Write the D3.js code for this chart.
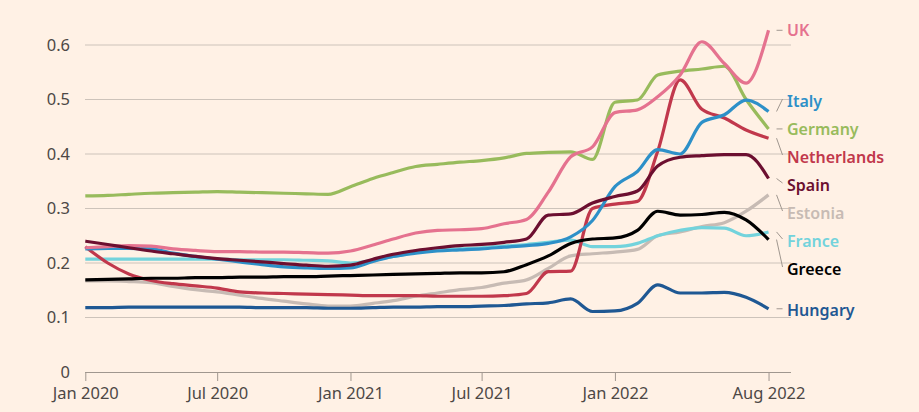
<!DOCTYPE html>
<html>
<head>
<meta charset="utf-8">
<script src="https://cdn.jsdelivr.net/npm/d3@7"></script>
<style>
  html, body { margin: 0; padding: 0; background: #FFF1E5; }
  svg { display: block; }
  text { font-family: "Noto Sans", "DejaVu Sans", sans-serif; }
</style>
</head>
<body>
<svg id="chart" width="919" height="412"></svg>
<script>
// ---- DATA ----
const months = [
  "2020-01","2020-02","2020-03","2020-04","2020-05","2020-06","2020-07","2020-08",
  "2020-09","2020-10","2020-11","2020-12","2021-01","2021-02","2021-03","2021-04",
  "2021-05","2021-06","2021-07","2021-08","2021-09","2021-10","2021-11","2021-12",
  "2022-01","2022-02","2022-03","2022-04","2022-05","2022-06","2022-07","2022-08"
];
const countries = ["Estonia","France","Hungary","Netherlands","Germany","Italy","UK","Spain","Greece"];

const uk          = [0.228,0.230,0.232,0.231,0.226,0.223,0.221,0.221,0.220,0.220,0.219,0.218,0.222,0.233,0.244,0.255,0.260,0.261,0.263,0.272,0.280,0.330,0.395,0.413,0.476,0.481,0.505,0.545,0.606,0.566,0.530,0.627];
const italy       = [0.226,0.227,0.227,0.226,0.218,0.212,0.207,0.202,0.197,0.193,0.191,0.190,0.191,0.203,0.212,0.218,0.222,0.224,0.226,0.229,0.232,0.236,0.248,0.278,0.340,0.368,0.408,0.400,0.458,0.472,0.499,0.478];
const germany     = [0.323,0.324,0.326,0.328,0.329,0.330,0.331,0.330,0.329,0.328,0.327,0.326,0.340,0.355,0.366,0.377,0.381,0.385,0.388,0.393,0.401,0.403,0.404,0.390,0.495,0.499,0.545,0.552,0.556,0.561,0.500,0.446];
const netherlands = [0.230,0.200,0.180,0.168,0.162,0.158,0.154,0.147,0.145,0.144,0.143,0.142,0.141,0.140,0.140,0.140,0.139,0.139,0.139,0.140,0.144,0.184,0.185,0.300,0.308,0.313,0.405,0.536,0.482,0.466,0.444,0.429];
const spain       = [0.240,0.234,0.228,0.222,0.217,0.212,0.208,0.205,0.202,0.199,0.196,0.194,0.196,0.207,0.216,0.223,0.228,0.232,0.234,0.238,0.244,0.288,0.290,0.310,0.322,0.332,0.378,0.394,0.397,0.399,0.399,0.355];
const estonia     = [0.167,0.167,0.166,0.164,0.157,0.151,0.147,0.141,0.135,0.130,0.125,0.121,0.121,0.126,0.131,0.139,0.145,0.151,0.155,0.163,0.169,0.190,0.213,0.217,0.220,0.225,0.250,0.257,0.267,0.274,0.295,0.325];
const france      = [0.207,0.207,0.207,0.207,0.207,0.207,0.207,0.206,0.206,0.206,0.205,0.204,0.200,0.205,0.212,0.219,0.224,0.226,0.228,0.231,0.234,0.238,0.242,0.230,0.230,0.236,0.250,0.260,0.265,0.264,0.250,0.257];
const greece      = [0.169,0.170,0.171,0.172,0.172,0.173,0.173,0.174,0.174,0.175,0.175,0.176,0.177,0.178,0.179,0.180,0.181,0.182,0.182,0.184,0.197,0.213,0.236,0.244,0.246,0.260,0.295,0.288,0.289,0.293,0.279,0.243];
const hungary     = [0.118,0.118,0.119,0.119,0.119,0.119,0.119,0.119,0.118,0.118,0.118,0.117,0.117,0.118,0.119,0.119,0.120,0.120,0.121,0.122,0.125,0.127,0.134,0.111,0.112,0.126,0.160,0.145,0.145,0.146,0.137,0.116];

const yTicks = [0, 0.1, 0.2, 0.3, 0.4, 0.5, 0.6];
const xTickDates = ["2020-01","2020-07","2021-01","2021-07","2022-01","2022-08"];
const xTickLabels = ["Jan 2020","Jul 2020","Jan 2021","Jul 2021","Jan 2022","Aug 2022"];

// ---- STYLE / LAYOUT ----
const valuesBy = { UK: uk, Italy: italy, Germany: germany, Netherlands: netherlands, Spain: spain,
                   Estonia: estonia, France: france, Greece: greece, Hungary: hungary };
const colors = { UK: "#e5728f", Italy: "#2d90c8", Germany: "#98bb5c", Netherlands: "#c1384c",
                 Spain: "#6c0f30", Estonia: "#c7bbb4", France: "#73d3dc", Greece: "#000000", Hungary: "#1f5893" };
const labelY = { UK: 30, Italy: 101, Germany: 129, Netherlands: 157, Spain: 185,
                 Estonia: 213, France: 241, Greece: 269, Hungary: 310 };

const parse = d3.timeParse("%Y-%m");
const svg = d3.select("#chart");

const x = d3.scaleTime()
  .domain([parse("2020-01"), parse("2022-09")])
  .range([85.3, 791]);
const y = d3.scaleLinear().domain([0, 0.6]).range([372, 45]);

// gridlines
svg.append("g")
  .selectAll("line")
  .data(yTicks.filter(d => d > 0))
  .join("line")
  .attr("x1", 85).attr("x2", 791)
  .attr("y1", d => y(d)).attr("y2", d => y(d))
  .attr("stroke", "#cdc3ba").attr("stroke-width", 1);

// y labels
svg.append("g")
  .selectAll("text")
  .data(yTicks)
  .join("text")
  .attr("x", 70).attr("y", d => y(d))
  .attr("dy", "0.36em")
  .attr("text-anchor", "end")
  .attr("fill", "#4d4845")
  .attr("font-size", 16.5)
  .text(d => d === 0 ? "0" : d3.format(".1f")(d));

// x axis
const xAxis = d3.axisBottom(x)
  .tickValues(xTickDates.map(parse))
  .tickFormat((d, i) => xTickLabels[i])
  .tickSize(9)
  .tickPadding(6);
const gx = svg.append("g").attr("transform", "translate(0,372)").call(xAxis);
gx.select(".domain").attr("stroke", "#a0978f").attr("d", "M85,0.5H791");
gx.selectAll(".tick line").attr("stroke", "#a0978f");
gx.selectAll(".tick text")
  .attr("fill", "#4d4845")
  .attr("font-size", 16.5)
  .attr("font-family", "Noto Sans, DejaVu Sans, sans-serif");

// lines
const line = d3.line()
  .x((d, i) => x(parse(months[i])))
  .y(d => y(d))
  .curve(d3.curveMonotoneX);

svg.append("g")
  .selectAll("path")
  .data(countries)
  .join("path")
  .attr("d", c => line(valuesBy[c]))
  .attr("fill", "none")
  .attr("stroke", c => colors[c])
  .attr("stroke-width", 3.2)
  .attr("stroke-linejoin", "round")
  .attr("stroke-linecap", "butt");

// leaders + labels
const lastDate = parse(months[months.length - 1]);
const lg = svg.append("g");
countries.forEach(c => {
  const vals = valuesBy[c];
  const yEnd = y(vals[vals.length - 1]);
  const ly = labelY[c];
  const x0 = x(lastDate) + 8, x1 = x0 + 6;
  const y1 = Math.abs(ly - yEnd) < 4 ? yEnd : ly - 2;
  lg.append("line")
    .attr("x1", x0).attr("y1", yEnd)
    .attr("x2", x1).attr("y2", y1)
    .attr("stroke", "#a0978f").attr("stroke-width", 1);
  lg.append("text")
    .attr("x", 787).attr("y", ly)
    .attr("dy", "0.36em")
    .attr("fill", colors[c])
    .attr("font-size", 16)
    .attr("font-weight", 600)
    .text(c);
});
</script>
</body>
</html>
